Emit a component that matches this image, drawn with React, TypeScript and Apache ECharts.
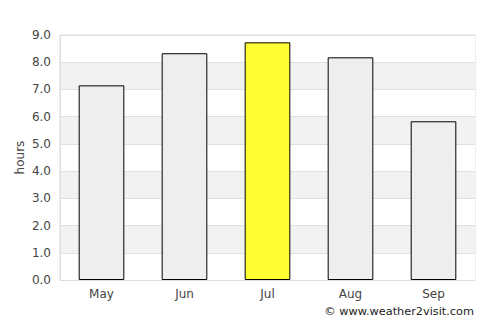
import React, { useEffect, useRef } from "react";
import * as echarts from "echarts";

const months = ["May", "Jun", "Jul", "Aug", "Sep"];
const hours = [7.15, 8.33, 8.73, 8.18, 5.83];
const highlightMonth = "Jul";

export default function App() {
  const ref = useRef<HTMLDivElement>(null);
  useEffect(() => {
    const chart = echarts.init(ref.current!, null, { renderer: "svg" });
    chart.setOption({
      animation: false,
      grid: {
        left: 60,
        right: 25,
        top: 35,
        bottom: 45,
        show: true,
        borderColor: "#dddddd",
        borderWidth: 1,
        backgroundColor: "transparent",
      },
      xAxis: {
        type: "category",
        data: months,
        axisLine: { show: true, lineStyle: { color: "#dddddd" } },
        axisTick: { show: false },
        axisLabel: { color: "#444", fontFamily: "DejaVu Sans", fontSize: 12, margin: 8 },
      },
      yAxis: {
        type: "value",
        min: 0,
        max: 9,
        interval: 1,
        name: "hours",
        nameLocation: "middle",
        nameGap: 34,
        nameMoveOverlap: false,
        nameTextStyle: { color: "#444", fontFamily: "DejaVu Sans", fontSize: 12 },
        axisLine: { show: true, lineStyle: { color: "#dddddd" } },
        axisTick: { show: false },
        axisLabel: {
          color: "#444",
          fontFamily: "DejaVu Sans",
          fontSize: 12,
          margin: 9,
          formatter: (v: number) => v.toFixed(1),
        },
        splitLine: { show: true, lineStyle: { color: "#e0e0e0" } },
        splitArea: { show: true, areaStyle: { color: ["#ffffff", "#f2f2f2"] } },
      },
      series: [
        {
          type: "bar",
          barWidth: "55%",
          data: hours.map((v, i) => ({
            value: v,
            itemStyle: {
              color: months[i] === highlightMonth ? "#ffff33" : "#eeeeee",
              borderColor: "#000",
              borderWidth: 1,
            },
          })),
        },
      ],
      graphic: [
        {
          type: "text",
          right: 26,
          top: 306,
          style: {
            text: "© www.weather2visit.com",
            fill: "#222",
            font: "11.3px 'DejaVu Sans'",
          },
        },
      ],
    });
    return () => chart.dispose();
  }, []);
  return <div ref={ref} style={{ width: 500, height: 325, position: "absolute", left: 0, top: 0 }} />;
}
